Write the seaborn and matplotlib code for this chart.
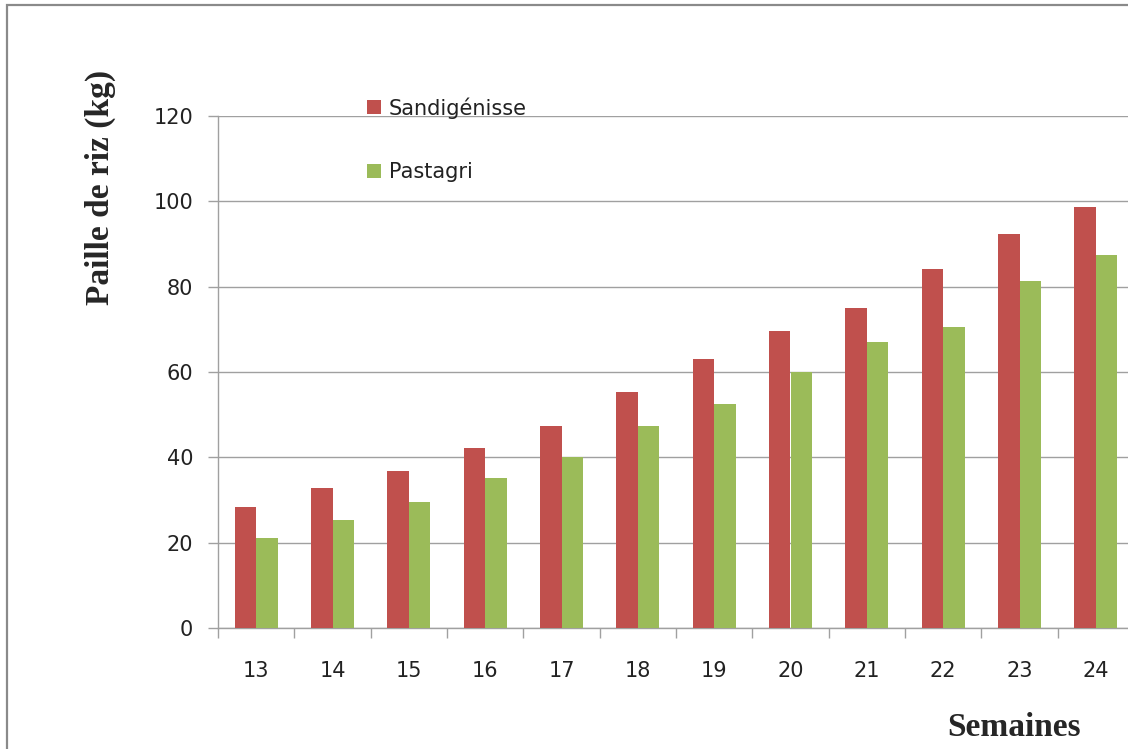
import matplotlib.pyplot as plt
import matplotlib.patches as mpatches
import seaborn as sns
import pandas as pd

weeks = ["13", "14", "15", "16", "17", "18", "19", "20", "21", "22", "23", "24"]
sandigenisse = [28.4, 32.8, 36.8, 42.2, 47.3, 55.4, 63.1, 69.7, 74.9, 84.1, 92.3, 98.6]
pastagri = [21.1, 25.3, 29.5, 35.2, 40.1, 47.3, 52.4, 60.0, 67.0, 70.5, 81.4, 87.4]
series_names = ["Sandigénisse", "Pastagri"]
colors = ["#C0504D", "#9BBB59"]
y_ticks = [0, 20, 40, 60, 80, 100, 120]

df = pd.DataFrame({
    "Semaine": weeks * 2,
    "Paille": sandigenisse + pastagri,
    "Variété": [series_names[0]] * len(weeks) + [series_names[1]] * len(weeks),
})

sns.set_style("white")
plt.rcParams["font.family"] = ["DejaVu Sans"]

fig = plt.figure(figsize=(11.28, 7.49), dpi=100)
ax = fig.add_axes([218 / 1128, 1 - 628 / 749, 916 / 1128, 512 / 749])

sns.barplot(data=df, x="Semaine", y="Paille", hue="Variété", palette=colors,
            saturation=1, width=0.565, linewidth=0, ax=ax, zorder=3)

ax.set_ylim(0, 120)
ax.set_xlim(-0.5, len(weeks) - 0.5)
ax.set_yticks(y_ticks)
ax.yaxis.grid(True, color="#A0A0A0", linewidth=1.0, zorder=0)
ax.set_axisbelow(True)

for side in ["top", "right"]:
    ax.spines[side].set_visible(False)
for side in ["left", "bottom"]:
    ax.spines[side].set_color("#A0A0A0")
    ax.spines[side].set_linewidth(1.0)

ax.tick_params(axis="y", length=7, width=1.0, color="#A0A0A0", pad=11,
               labelsize=15, labelcolor="#222222", left=True)
ax.tick_params(axis="x", which="major", length=0, pad=24,
               labelsize=15, labelcolor="#222222")
ax.set_xticks([i - 0.5 for i in range(len(weeks) + 1)], minor=True)
ax.tick_params(axis="x", which="minor", length=7, width=1.0, color="#A0A0A0", bottom=True)

ax.set_ylabel("Paille de riz (kg)", family="Liberation Serif", fontweight="bold", fontsize=24)
ax.yaxis.set_label_coords((100 - 218) / 916, (628 - 187) / 512)
ax.yaxis.label.set_va("center")
ax.set_xlabel("Semaines", family="Liberation Serif", fontweight="bold", fontsize=24)
ax.xaxis.set_label_coords((1014 - 218) / 916, (628 - 728) / 512)
ax.xaxis.label.set_va("center")

leg = ax.legend(loc="upper left", bbox_to_anchor=((367 - 218) / 916, (628 - 97) / 512),
                frameon=False, fontsize=15, handlelength=0.68, handleheight=0.66,
                handletextpad=0.38, labelspacing=2.1, borderpad=0, borderaxespad=0)
for t in leg.get_texts():
    t.set_color("#222222")

border = mpatches.Rectangle((7 / 1128, -0.2), 1.5, 1.2 - 5 / 749, transform=fig.transFigure,
                            fill=False, edgecolor="#8A8A8A", linewidth=1.6)
fig.add_artist(border)

fig.savefig("out.png", dpi=100)
